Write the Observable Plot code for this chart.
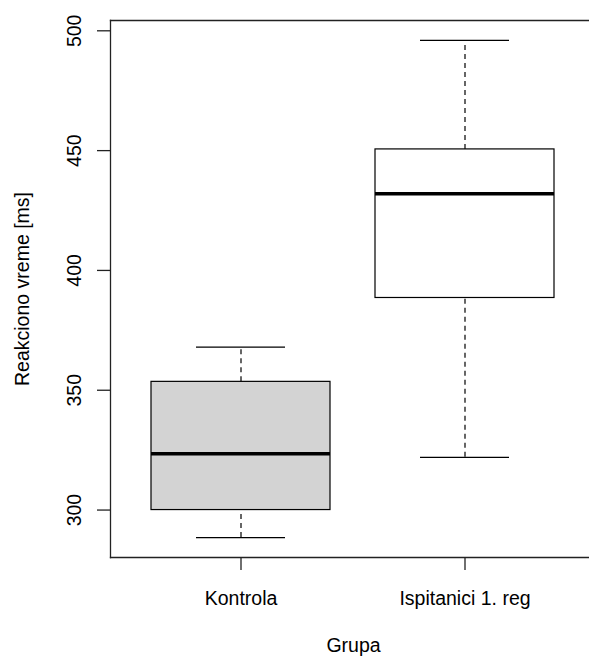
<!DOCTYPE html>
<html>
<head>
<meta charset="utf-8">
<script src="https://cdn.jsdelivr.net/npm/d3@7"></script>
<script src="https://cdn.jsdelivr.net/npm/@observablehq/plot@0.6"></script>
<style>
  html, body { margin: 0; padding: 0; background: #fff; overflow: hidden; }
</style>
</head>
<body>
<div id="chart"></div>
<script>
// Reaction time summary per group (five-number summary for each box)
const groups = ["Kontrola", "Ispitanici 1. reg"];
const lowerWhisker = [288.5, 322];
const q1 = [300, 388.5];
const median = [323.5, 432];
const q3 = [353.5, 450.5];
const upperWhisker = [368, 496];
const boxFill = ["#d3d3d3", "#ffffff"];
const yTicks = [300, 350, 400, 450, 500];

const yLabel = "Reakciono vreme [ms]";
const xLabel = "Grupa";

const rows = groups.map((g, i) => ({
  group: g,
  lw: lowerWhisker[i],
  q1: q1[i],
  med: median[i],
  q3: q3[i],
  uw: upperWhisker[i],
  fill: boxFill[i]
}));

// y extent padded by 4% on both sides, like a base R plot region
const lo = d3.min(lowerWhisker), hi = d3.max(upperWhisker);
const pad = (hi - lo) * 0.04;

const font = "'Liberation Sans', Arial, Helvetica, sans-serif";
const frameStyle = { stroke: "#222", strokeWidth: 1.3 };

const chart = Plot.plot({
  width: 589,
  height: 657,
  marginTop: 20,
  marginBottom: 100,
  marginLeft: 110,
  marginRight: -7,
  style: { fontFamily: font, fontSize: "19.5px", background: "#fff", color: "#000" },
  x: { type: "band", domain: groups, paddingInner: 0.2, paddingOuter: 0.18, axis: null },
  y: { domain: [lo - pad, hi + pad], axis: null },
  color: { type: "identity" },
  marks: [
    // dashed whiskers
    Plot.ruleX(rows, { x: "group", y1: "lw", y2: "q1", stroke: "#000", strokeWidth: 1.2, strokeDasharray: "5,4" }),
    Plot.ruleX(rows, { x: "group", y1: "q3", y2: "uw", stroke: "#000", strokeWidth: 1.2, strokeDasharray: "5,4" }),
    // whisker caps
    Plot.tickY(rows, { x: "group", y: "lw", stroke: "#000", strokeWidth: 1.2, insetLeft: 45, insetRight: 45 }),
    Plot.tickY(rows, { x: "group", y: "uw", stroke: "#000", strokeWidth: 1.2, insetLeft: 45, insetRight: 45 }),
    // boxes
    Plot.barY(rows, { x: "group", y1: "q1", y2: "q3", fill: "fill", stroke: "#000", strokeWidth: 1.2 }),
    // medians
    Plot.tickY(rows, { x: "group", y: "med", stroke: "#000", strokeWidth: 3.5 }),
    // plot region border (the right side lies past the page edge)
    Plot.frame({ anchor: "top", ...frameStyle }),
    Plot.frame({ anchor: "left", ...frameStyle }),
    Plot.frame({ anchor: "bottom", ...frameStyle }),
    // y axis ticks and rotated labels
    Plot.axisY(yTicks, { tickSize: 13, tickFormat: () => "", ...frameStyle, label: null }),
    Plot.text(yTicks, { y: d => d, text: d => String(d), frameAnchor: "left", rotate: -90, dx: -30, textAnchor: "middle", lineAnchor: "bottom", fill: "#000" }),
    // x axis ticks and category labels
    Plot.axisX({ tickSize: 13, tickPadding: 21, ...frameStyle, label: null, fill: "#000" }),
    // axis titles
    Plot.text([yLabel], { frameAnchor: "left", rotate: -90, dx: -82, textAnchor: "middle", lineAnchor: "bottom", fill: "#000" }),
    Plot.text([xLabel], { frameAnchor: "bottom", dy: 94, textAnchor: "middle", lineAnchor: "bottom", fill: "#000" })
  ]
});

document.getElementById("chart").appendChild(chart);
</script>
</body>
</html>
